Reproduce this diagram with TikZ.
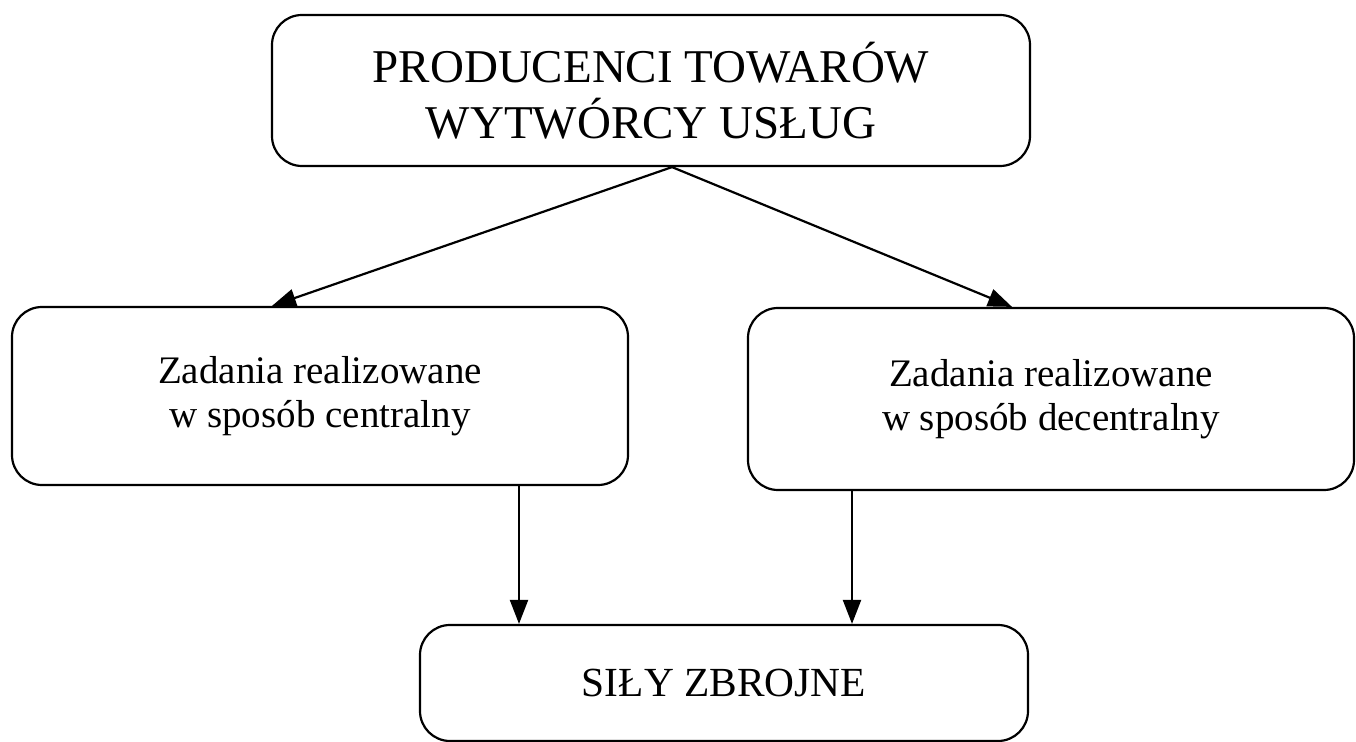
\documentclass[tikz,border=0pt]{standalone}
\usepackage{fontspec}
\setmainfont{Liberation Serif}
\usetikzlibrary{arrows.meta}

\begin{document}
\begin{tikzpicture}[x=0.5pt, y=-0.5pt, line width=1.1pt, >={Triangle[length=12pt, width=9pt]},
        main/.style = {draw, rounded corners=15pt, align=center, inner sep=0pt}]
        \useasboundingbox (0,0) rectangle (1356,742);
        \node[main, minimum width=379pt, minimum height=75.5pt, font=\fontsize{23.5}{28}\selectfont] (1) at (651,90.5) {PRODUCENCI TOWARÓW\\WYTWÓRCY USŁUG};
        \node[main, minimum width=308pt, minimum height=89pt, font=\fontsize{19.5}{22}\selectfont] (2) at (320,396) {Zadania realizowane\\w sposób centralny};
        \node[main, minimum width=303pt, minimum height=91pt, font=\fontsize{19.5}{22}\selectfont] (3) at (1051,399) {Zadania realizowane\\w sposób decentralny};
        \node[main, minimum width=304pt, minimum height=58pt, font=\fontsize{20.7}{24}\selectfont] (4) at (724,683) {SIŁY ZBROJNE};
        \draw[->] ([xshift=10.5pt]1.south) -- ([xshift=-24pt]2.north);
        \draw[->] ([xshift=10.5pt]1.south) -- ([xshift=-19.5pt]3.north);
        \draw[->] ([xshift=99.5pt]2.south) -- ([xshift=99.5pt]2.south |- 4.north);
        \draw[->] ([xshift=-99.5pt]3.south) -- ([xshift=-99.5pt]3.south |- 4.north);
    \end{tikzpicture}
\end{document}
